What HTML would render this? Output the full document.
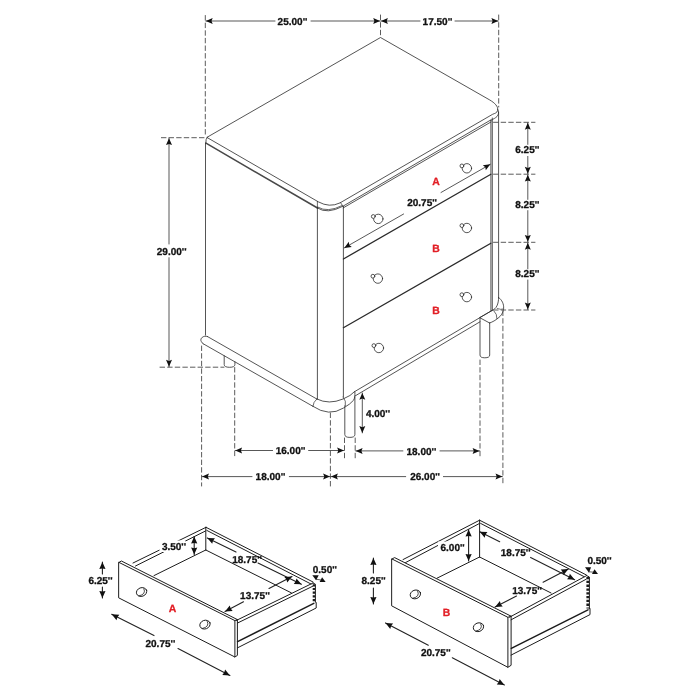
<!DOCTYPE html>
<html><head><meta charset="utf-8"><title>Nightstand dimensions</title>
<style>
html,body{margin:0;padding:0;background:#fff;}
body{width:700px;height:700px;overflow:hidden;}
svg{display:block;will-change:transform;}
svg text{font-family:"Liberation Sans",sans-serif;font-weight:bold;}
</style></head><body>
<svg width="700" height="700" viewBox="0 0 700 700" stroke-linecap="round" stroke-linejoin="round">
<rect width="700" height="700" fill="#fff"/>
<path d="M207.2,137.2 L380.5,37.5 L489.8,100 C494.5,102.8 498.6,106.5 497.6,110.5 C497,113 495,113.2 492.6,114.3 L340,202.9 Q329.5,208 318.6,202 Z" stroke="#2a2a2a" stroke-width="0.8" fill="none" />
<path d="M317.5,208 Q327,214.6 343,206.2 L490.9,119.9" stroke="#2a2a2a" stroke-width="0.8" fill="none" />
<path d="M206,143.2 L317.5,208" stroke="#484848" stroke-width="1.5" fill="none" />
<path d="M318,207.2 Q327.5,213 342,205.6" stroke="#2a2a2a" stroke-width="0.7" fill="none" />
<path d="M207.2,137.2 Q205.6,139 205.8,143" stroke="#2a2a2a" stroke-width="0.8" fill="none" />
<path d="M497.8,109.5 C499,112 498.8,114.5 497,116.5 C495.5,118 493.5,119 490.9,120.3" stroke="#2a2a2a" stroke-width="0.8" fill="none" />
<line x1="317.4" y1="201.4" x2="317.4" y2="208" stroke="#2a2a2a" stroke-width="0.7" />
<line x1="340.6" y1="202.7" x2="343" y2="206.4" stroke="#2a2a2a" stroke-width="0.7" />
<line x1="343.2" y1="207.9" x2="490.9" y2="122" stroke="#2a2a2a" stroke-width="0.8" />
<line x1="205.5" y1="143" x2="205.5" y2="335.1" stroke="#2a2a2a" stroke-width="0.8" />
<line x1="317.4" y1="208" x2="317.4" y2="399" stroke="#2a2a2a" stroke-width="0.8" />
<line x1="343.4" y1="206.4" x2="343.4" y2="397" stroke="#2a2a2a" stroke-width="0.8" />
<line x1="490.9" y1="120.3" x2="490.9" y2="310.5" stroke="#2a2a2a" stroke-width="0.8" />
<line x1="492.3" y1="118" x2="492.3" y2="310.2" stroke="#2a2a2a" stroke-width="0.8" />
<line x1="498.6" y1="112" x2="498.6" y2="297.5" stroke="#2a2a2a" stroke-width="0.8" />
<line x1="343.4" y1="259" x2="490.9" y2="174.2" stroke="#2a2a2a" stroke-width="1.3" />
<line x1="343.4" y1="327.8" x2="490.9" y2="243.2" stroke="#2a2a2a" stroke-width="1.3" />
<circle cx="378.3" cy="218.9" r="4.7" fill="#fff" stroke="#2a2a2a" stroke-width="0.8"/>
<circle cx="373.3" cy="216.5" r="1.9" fill="#fff" stroke="#2a2a2a" stroke-width="0.8"/>
<circle cx="466.9" cy="168.3" r="4.7" fill="#fff" stroke="#2a2a2a" stroke-width="0.8"/>
<circle cx="461.9" cy="165.9" r="1.9" fill="#fff" stroke="#2a2a2a" stroke-width="0.8"/>
<circle cx="377.9" cy="278.6" r="4.7" fill="#fff" stroke="#2a2a2a" stroke-width="0.8"/>
<circle cx="372.9" cy="276.20000000000005" r="1.9" fill="#fff" stroke="#2a2a2a" stroke-width="0.8"/>
<circle cx="466.9" cy="228" r="4.7" fill="#fff" stroke="#2a2a2a" stroke-width="0.8"/>
<circle cx="461.9" cy="225.6" r="1.9" fill="#fff" stroke="#2a2a2a" stroke-width="0.8"/>
<circle cx="378.9" cy="348" r="4.7" fill="#fff" stroke="#2a2a2a" stroke-width="0.8"/>
<circle cx="373.9" cy="345.6" r="1.9" fill="#fff" stroke="#2a2a2a" stroke-width="0.8"/>
<circle cx="466.9" cy="297.1" r="4.7" fill="#fff" stroke="#2a2a2a" stroke-width="0.8"/>
<circle cx="461.9" cy="294.70000000000005" r="1.9" fill="#fff" stroke="#2a2a2a" stroke-width="0.8"/>
<path d="M207.4,336.5 L316.8,399" stroke="#2a2a2a" stroke-width="0.8" fill="none" />
<path d="M203.1,343.7 L312.9,406.3" stroke="#2a2a2a" stroke-width="0.8" fill="none" />
<path d="M207.4,336.5 C203.5,335 199.5,338.5 201.3,341.5 C201.8,342.6 202.4,343.2 203.1,343.7" stroke="#2a2a2a" stroke-width="0.8" fill="none" />
<path d="M316.8,399 Q329,405 343,399 Q351,395.8 354.5,391.7" stroke="#2a2a2a" stroke-width="0.8" fill="none" />
<path d="M312.9,406.3 Q329,417.2 343.5,408 Q350.5,404 353.5,400.3 Q355.2,398 354.9,392" stroke="#2a2a2a" stroke-width="0.8" fill="none" />
<path d="M316.8,399 Q313.2,402 312.9,406.3" stroke="#2a2a2a" stroke-width="0.7" fill="none" />
<path d="M343.1,397 Q346.5,401 345.4,405.6" stroke="#2a2a2a" stroke-width="0.7" fill="none" />
<line x1="354.5" y1="391.7" x2="492" y2="310.5" stroke="#2a2a2a" stroke-width="0.8" />
<line x1="355" y1="396" x2="480" y2="321.8" stroke="#2a2a2a" stroke-width="0.8" />
<path d="M498.6,297.5 C502,300 504,304 503.6,308.5 C503.2,313 501,316 498,318.2 C495.5,320.2 493,321.8 489.6,323" stroke="#2a2a2a" stroke-width="0.8" fill="none" />
<path d="M498.6,297.5 C498.6,304 496.5,309 492,310.5" stroke="#2a2a2a" stroke-width="0.8" fill="none" />
<path d="M492,310.5 L479.6,317.6 L489.6,323" stroke="#2a2a2a" stroke-width="0.8" fill="none" />
<path d="M494,311 Q497.2,314 497,318.6" stroke="#2a2a2a" stroke-width="0.7" fill="none" />
<path d="M497.2,308.5 Q501,310 503.4,309" stroke="#2a2a2a" stroke-width="0.6" fill="none" />
<path d="M344.8,405.8 L344.8,434.5 Q344.8,437.4 349.9,437.4 Q354.9,437.4 354.9,434.5 L354.9,397" stroke="#2a2a2a" stroke-width="0.8" fill="none" />
<path d="M480,318 L480,355 Q480,357.8 484.8,357.8 Q489.7,357.8 489.7,355 L489.7,323" stroke="#2a2a2a" stroke-width="0.8" fill="none" />
<path d="M224.2,355.8 L224.2,364.5 Q224.2,367.3 229.5,367.3 Q234.9,367.3 234.9,364.5 L234.9,361.9" stroke="#2a2a2a" stroke-width="0.8" fill="none" />
<text x="436" y="184.9" font-size="10.4" fill="#e21f26" stroke="#e21f26" stroke-width="0.3" text-rendering="geometricPrecision" text-anchor="middle" >A</text>
<text x="436" y="251.7" font-size="10.4" fill="#e21f26" stroke="#e21f26" stroke-width="0.3" text-rendering="geometricPrecision" text-anchor="middle" >B</text>
<text x="436" y="314.3" font-size="10.4" fill="#e21f26" stroke="#e21f26" stroke-width="0.3" text-rendering="geometricPrecision" text-anchor="middle" >B</text>
<line x1="205.3" y1="15.5" x2="205.3" y2="137" stroke="#4a4a4a" stroke-width="0.9" stroke-dasharray="4.6 3"/>
<line x1="380.5" y1="15" x2="380.5" y2="37.5" stroke="#4a4a4a" stroke-width="0.9" stroke-dasharray="4.6 3"/>
<line x1="498.7" y1="15" x2="498.7" y2="107" stroke="#4a4a4a" stroke-width="0.9" stroke-dasharray="4.6 3"/>
<line x1="205.8" y1="21" x2="275" y2="21" stroke="#3a3a3a" stroke-width="0.85" />
<line x1="311" y1="21" x2="380.1" y2="21" stroke="#3a3a3a" stroke-width="0.85" />
<polygon points="205.80,21.00 212.70,18.00 211.50,21.00 212.70,24.00" fill="#111"/>
<polygon points="380.10,21.00 373.20,24.00 374.40,21.00 373.20,18.00" fill="#111"/>
<text x="292.5" y="24.6" font-size="10" fill="#111" stroke="#111" stroke-width="0.3" text-rendering="geometricPrecision" text-anchor="middle" >25.00''</text>
<line x1="381" y1="21" x2="420" y2="21" stroke="#3a3a3a" stroke-width="0.85" />
<line x1="455" y1="21" x2="498.3" y2="21" stroke="#3a3a3a" stroke-width="0.85" />
<polygon points="381.00,21.00 387.90,18.00 386.70,21.00 387.90,24.00" fill="#111"/>
<polygon points="498.30,21.00 491.40,24.00 492.60,21.00 491.40,18.00" fill="#111"/>
<text x="437.5" y="24.6" font-size="10" fill="#111" stroke="#111" stroke-width="0.3" text-rendering="geometricPrecision" text-anchor="middle" >17.50''</text>
<line x1="493.5" y1="122.3" x2="535" y2="122.3" stroke="#4a4a4a" stroke-width="0.9" stroke-dasharray="4.6 3"/>
<line x1="493.5" y1="174.2" x2="535" y2="174.2" stroke="#4a4a4a" stroke-width="0.9" stroke-dasharray="4.6 3"/>
<line x1="493.5" y1="242.3" x2="535" y2="242.3" stroke="#4a4a4a" stroke-width="0.9" stroke-dasharray="4.6 3"/>
<line x1="493.5" y1="310" x2="535" y2="310" stroke="#4a4a4a" stroke-width="0.9" stroke-dasharray="4.6 3"/>
<line x1="527.8" y1="122.8" x2="527.8" y2="144.4" stroke="#3a3a3a" stroke-width="0.85" />
<line x1="527.8" y1="156.4" x2="527.8" y2="173.7" stroke="#3a3a3a" stroke-width="0.85" />
<polygon points="527.80,122.80 530.80,129.70 527.80,128.50 524.80,129.70" fill="#111"/>
<polygon points="527.80,173.70 524.80,166.80 527.80,168.00 530.80,166.80" fill="#111"/>
<text x="527.4" y="152.9" font-size="10" fill="#111" stroke="#111" stroke-width="0.3" text-rendering="geometricPrecision" text-anchor="middle" >6.25''</text>
<line x1="527.8" y1="174.7" x2="527.8" y2="199.4" stroke="#3a3a3a" stroke-width="0.85" />
<line x1="527.8" y1="210.6" x2="527.8" y2="241.8" stroke="#3a3a3a" stroke-width="0.85" />
<polygon points="527.80,174.70 530.80,181.60 527.80,180.40 524.80,181.60" fill="#111"/>
<polygon points="527.80,241.80 524.80,234.90 527.80,236.10 530.80,234.90" fill="#111"/>
<text x="527.4" y="207.6" font-size="10" fill="#111" stroke="#111" stroke-width="0.3" text-rendering="geometricPrecision" text-anchor="middle" >8.25''</text>
<line x1="527.8" y1="242.8" x2="527.8" y2="268.9" stroke="#3a3a3a" stroke-width="0.85" />
<line x1="527.8" y1="280" x2="527.8" y2="309.5" stroke="#3a3a3a" stroke-width="0.85" />
<polygon points="527.80,242.80 530.80,249.70 527.80,248.50 524.80,249.70" fill="#111"/>
<polygon points="527.80,309.50 524.80,302.60 527.80,303.80 530.80,302.60" fill="#111"/>
<text x="527.4" y="277.40000000000003" font-size="10" fill="#111" stroke="#111" stroke-width="0.3" text-rendering="geometricPrecision" text-anchor="middle" >8.25''</text>
<line x1="161.4" y1="137.7" x2="206" y2="137.7" stroke="#4a4a4a" stroke-width="0.9" stroke-dasharray="4.6 3"/>
<line x1="160" y1="367.2" x2="224" y2="367.2" stroke="#4a4a4a" stroke-width="0.9" stroke-dasharray="4.6 3"/>
<line x1="169" y1="138.2" x2="169" y2="244" stroke="#3a3a3a" stroke-width="0.85" />
<line x1="169" y1="257.7" x2="169" y2="366.7" stroke="#3a3a3a" stroke-width="0.85" />
<polygon points="169.00,138.20 172.00,145.10 169.00,143.90 166.00,145.10" fill="#111"/>
<polygon points="169.00,366.70 166.00,359.80 169.00,361.00 172.00,359.80" fill="#111"/>
<text x="171.7" y="254.5" font-size="10" fill="#111" stroke="#111" stroke-width="0.3" text-rendering="geometricPrecision" text-anchor="middle" >29.00''</text>
<line x1="344.3" y1="247.9" x2="403.6" y2="214" stroke="#3a3a3a" stroke-width="0.85" />
<line x1="441" y1="192.5" x2="490.3" y2="164.3" stroke="#3a3a3a" stroke-width="0.85" />
<polygon points="344.30,247.90 348.80,241.87 349.25,245.07 351.78,247.07" fill="#111"/>
<polygon points="490.30,164.30 485.80,170.33 485.35,167.13 482.82,165.13" fill="#111"/>
<text x="422.1" y="206.1" font-size="10" fill="#111" stroke="#111" stroke-width="0.3" text-rendering="geometricPrecision" text-anchor="middle" >20.75''</text>
<line x1="201.6" y1="346" x2="201.6" y2="486" stroke="#4a4a4a" stroke-width="0.9" stroke-dasharray="4.6 3"/>
<line x1="234.7" y1="367.5" x2="234.7" y2="458" stroke="#4a4a4a" stroke-width="0.9" stroke-dasharray="4.6 3"/>
<line x1="330.4" y1="413" x2="330.4" y2="486" stroke="#4a4a4a" stroke-width="0.9" stroke-dasharray="4.6 3"/>
<line x1="344.5" y1="438" x2="344.5" y2="458" stroke="#4a4a4a" stroke-width="0.9" stroke-dasharray="4.6 3"/>
<line x1="355.2" y1="438" x2="355.2" y2="458" stroke="#4a4a4a" stroke-width="0.9" stroke-dasharray="4.6 3"/>
<line x1="480" y1="360" x2="480" y2="458.6" stroke="#4a4a4a" stroke-width="0.9" stroke-dasharray="4.6 3"/>
<line x1="502.9" y1="311" x2="502.9" y2="485.7" stroke="#4a4a4a" stroke-width="0.9" stroke-dasharray="4.6 3"/>
<line x1="235.2" y1="450.5" x2="272.6" y2="450.5" stroke="#3a3a3a" stroke-width="0.85" />
<line x1="308.6" y1="450.5" x2="344" y2="450.5" stroke="#3a3a3a" stroke-width="0.85" />
<polygon points="235.20,450.50 242.10,447.50 240.90,450.50 242.10,453.50" fill="#111"/>
<polygon points="344.00,450.50 337.10,453.50 338.30,450.50 337.10,447.50" fill="#111"/>
<text x="290.6" y="454.0" font-size="10" fill="#111" stroke="#111" stroke-width="0.3" text-rendering="geometricPrecision" text-anchor="middle" >16.00''</text>
<line x1="202.1" y1="476.6" x2="252" y2="476.6" stroke="#3a3a3a" stroke-width="0.85" />
<line x1="289.3" y1="476.6" x2="330" y2="476.6" stroke="#3a3a3a" stroke-width="0.85" />
<polygon points="202.10,476.60 209.00,473.60 207.80,476.60 209.00,479.60" fill="#111"/>
<polygon points="330.00,476.60 323.10,479.60 324.30,476.60 323.10,473.60" fill="#111"/>
<text x="270.5" y="480.20000000000005" font-size="10" fill="#111" stroke="#111" stroke-width="0.3" text-rendering="geometricPrecision" text-anchor="middle" >18.00''</text>
<line x1="355.7" y1="450.9" x2="402.9" y2="450.9" stroke="#3a3a3a" stroke-width="0.85" />
<line x1="440" y1="450.9" x2="479.5" y2="450.9" stroke="#3a3a3a" stroke-width="0.85" />
<polygon points="355.70,450.90 362.60,447.90 361.40,450.90 362.60,453.90" fill="#111"/>
<polygon points="479.50,450.90 472.60,453.90 473.80,450.90 472.60,447.90" fill="#111"/>
<text x="421.4" y="454.5" font-size="10" fill="#111" stroke="#111" stroke-width="0.3" text-rendering="geometricPrecision" text-anchor="middle" >18.00''</text>
<line x1="331" y1="476.6" x2="405.7" y2="476.6" stroke="#3a3a3a" stroke-width="0.85" />
<line x1="443.4" y1="476.6" x2="502.4" y2="476.6" stroke="#3a3a3a" stroke-width="0.85" />
<polygon points="331.00,476.60 337.90,473.60 336.70,476.60 337.90,479.60" fill="#111"/>
<polygon points="502.40,476.60 495.50,479.60 496.70,476.60 495.50,473.60" fill="#111"/>
<text x="425.1" y="480.20000000000005" font-size="10" fill="#111" stroke="#111" stroke-width="0.3" text-rendering="geometricPrecision" text-anchor="middle" >26.00''</text>
<line x1="362.3" y1="392.9" x2="362.3" y2="432.9" stroke="#3a3a3a" stroke-width="0.85" />
<polygon points="362.30,392.90 365.30,399.80 362.30,398.60 359.30,399.80" fill="#111"/>
<polygon points="362.30,432.90 359.30,426.00 362.30,427.20 365.30,426.00" fill="#111"/>
<text x="378" y="416.5" font-size="10" fill="#111" stroke="#111" stroke-width="0.3" text-rendering="geometricPrecision" text-anchor="middle" >4.00''</text>
<path d="M119,562.4 L234.9,620.6 L234.9,657 L119,598 Z" stroke="#1c1c1c" stroke-width="1.0" fill="none" />
<path d="M119,562.4 L121.4,561 L237.4,619.6 L237.4,655.4 L234.9,657" stroke="#1c1c1c" stroke-width="1.0" fill="none" />
<line x1="234.9" y1="620.6" x2="237.4" y2="619.6" stroke="#1c1c1c" stroke-width="1.0" />
<line x1="133" y1="563" x2="206" y2="527.3" stroke="#1c1c1c" stroke-width="1.0" />
<line x1="135.5" y1="566" x2="205.5" y2="531" stroke="#1c1c1c" stroke-width="1.0" />
<line x1="205.8" y1="527.3" x2="205.8" y2="550" stroke="#1c1c1c" stroke-width="1.0" />
<line x1="205.8" y1="550" x2="154" y2="575.6" stroke="#1c1c1c" stroke-width="1.0" />
<line x1="205.8" y1="550" x2="291.4" y2="592.9" stroke="#1c1c1c" stroke-width="1.0" />
<line x1="206" y1="527.3" x2="313" y2="582" stroke="#1c1c1c" stroke-width="1.0" />
<line x1="206.8" y1="530.4" x2="311" y2="584" stroke="#1c1c1c" stroke-width="1.0" />
<line x1="236.4" y1="620.4" x2="313" y2="583" stroke="#1c1c1c" stroke-width="1.0" />
<line x1="237.6" y1="623" x2="312.8" y2="586.2" stroke="#1c1c1c" stroke-width="1.0" />
<path d="M313,583 L315.4,584.2 L315.4,602.2" stroke="#1c1c1c" stroke-width="1.0" fill="none" />
<line x1="313.9" y1="584.2" x2="313.9" y2="602.4" stroke="#1c1c1c" stroke-width="2.4" stroke-dasharray="2.2 1.5" stroke-linecap="butt"/>
<line x1="237.6" y1="641.7" x2="313.8" y2="603.4" stroke="#1c1c1c" stroke-width="1.5" />
<path d="M237.4,647.9 L316.2,608 L316.2,602.6" stroke="#1c1c1c" stroke-width="1.0" fill="none" />
<ellipse cx="141.6" cy="592" rx="5.3" ry="4.3" transform="rotate(-20 141.6 592)" fill="#fff" stroke="#1c1c1c" stroke-width="0.9"/>
<path d="M145.0,589.0 Q147.6,594.5 140.1,596.1" fill="none" stroke="#1c1c1c" stroke-width="0.8" transform="translate(-1.1 -0.2)"/>
<ellipse cx="205" cy="624.6" rx="5.3" ry="4.3" transform="rotate(-20 205 624.6)" fill="#fff" stroke="#1c1c1c" stroke-width="0.9"/>
<path d="M208.4,621.6 Q211.0,627.1 203.5,628.7" fill="none" stroke="#1c1c1c" stroke-width="0.8" transform="translate(-1.1 -0.2)"/>
<text x="172.4" y="611.7" font-size="10.4" fill="#e21f26" stroke="#e21f26" stroke-width="0.3" text-rendering="geometricPrecision" text-anchor="middle" >A</text>
<line x1="102.4" y1="562" x2="102.4" y2="574" stroke="#222" stroke-width="1.1" />
<line x1="102.4" y1="587" x2="102.4" y2="598" stroke="#222" stroke-width="1.1" />
<polygon points="102.40,562.00 105.50,569.00 102.40,568.40 99.30,569.00" fill="#111"/>
<polygon points="102.40,598.00 99.30,591.00 102.40,591.60 105.50,591.00" fill="#111"/>
<text x="100.5" y="584.1" font-size="10" fill="#111" stroke="#111" stroke-width="0.3" text-rendering="geometricPrecision" text-anchor="middle" >6.25''</text>
<rect x="159.5" y="540.5" width="26" height="11.5" fill="#fff"/>
<line x1="194.2" y1="536.6" x2="194.2" y2="554.6" stroke="#222" stroke-width="1.1" />
<polygon points="194.20,536.60 197.30,543.60 194.20,543.00 191.10,543.60" fill="#111"/>
<polygon points="194.20,554.60 191.10,547.60 194.20,548.20 197.30,547.60" fill="#111"/>
<text x="174" y="550.0" font-size="10" fill="#111" stroke="#111" stroke-width="0.3" text-rendering="geometricPrecision" text-anchor="middle" >3.50''</text>
<line x1="207.3" y1="537.9" x2="236" y2="552.1" stroke="#222" stroke-width="1.1" />
<line x1="258" y1="563" x2="301.4" y2="584.3" stroke="#222" stroke-width="1.1" />
<polygon points="207.30,537.90 214.95,538.22 213.04,540.73 212.21,543.78" fill="#111"/>
<polygon points="301.40,584.30 293.75,583.98 295.66,581.47 296.49,578.42" fill="#111"/>
<text x="247.1" y="562.9" font-size="10" fill="#111" stroke="#111" stroke-width="0.3" text-rendering="geometricPrecision" text-anchor="middle" >18.75''</text>
<line x1="225" y1="611.4" x2="243.5" y2="601.8" stroke="#222" stroke-width="1.1" />
<line x1="269" y1="588.5" x2="292" y2="576.4" stroke="#222" stroke-width="1.1" />
<polygon points="225.00,611.40 229.77,605.41 230.67,608.44 232.64,610.91" fill="#111"/>
<polygon points="292.00,576.40 287.23,582.39 286.33,579.36 284.36,576.89" fill="#111"/>
<text x="255" y="598.8000000000001" font-size="10" fill="#111" stroke="#111" stroke-width="0.3" text-rendering="geometricPrecision" text-anchor="middle" >13.75''</text>
<line x1="111.7" y1="614.2" x2="154" y2="635.6" stroke="#222" stroke-width="1.1" />
<line x1="178" y1="648.6" x2="229.9" y2="675.4" stroke="#222" stroke-width="1.1" />
<polygon points="111.70,614.20 119.34,614.67 117.38,617.14 116.49,620.17" fill="#111"/>
<polygon points="229.90,675.40 222.26,674.93 224.22,672.46 225.11,669.43" fill="#111"/>
<text x="160.4" y="647.0" font-size="10" fill="#111" stroke="#111" stroke-width="0.3" text-rendering="geometricPrecision" text-anchor="middle" >20.75''</text>
<text x="324.9" y="572.9" font-size="10" fill="#111" stroke="#111" stroke-width="0.3" text-rendering="geometricPrecision" text-anchor="middle" >0.50''</text>
<polygon points="312.3,575.3 318.7,575.3 316.1,580.2" fill="#111"/>
<polygon points="319.6,582.1 325.6,582.1 322.1,577.2" fill="#111"/>
<line x1="316" y1="579.2" x2="321" y2="580" stroke="#1c1c1c" stroke-width="0.7" />
<path d="M392,559 L507.9,617.3 L507.9,667.3 L392,606 Z" stroke="#1c1c1c" stroke-width="1.0" fill="none" />
<path d="M392,559 L394.6,557.6 L511.1,616.2 L511.1,665.3 L507.9,667.3" stroke="#1c1c1c" stroke-width="1.0" fill="none" />
<line x1="507.9" y1="617.3" x2="511.1" y2="616.2" stroke="#1c1c1c" stroke-width="1.0" />
<line x1="403" y1="559.6" x2="479.6" y2="520.2" stroke="#1c1c1c" stroke-width="1.0" />
<line x1="405.5" y1="562.6" x2="479.2" y2="523.6" stroke="#1c1c1c" stroke-width="1.0" />
<line x1="479.6" y1="520.2" x2="479.6" y2="557" stroke="#1c1c1c" stroke-width="1.0" />
<line x1="479.6" y1="557" x2="437" y2="578.2" stroke="#1c1c1c" stroke-width="1.0" />
<line x1="479.6" y1="557" x2="551.1" y2="593" stroke="#1c1c1c" stroke-width="1.0" />
<line x1="479.6" y1="520.2" x2="586.4" y2="575" stroke="#1c1c1c" stroke-width="1.0" />
<line x1="480.6" y1="523.4" x2="584" y2="576.6" stroke="#1c1c1c" stroke-width="1.0" />
<line x1="509.6" y1="617.2" x2="586.6" y2="575.6" stroke="#1c1c1c" stroke-width="1.0" />
<line x1="511.1" y1="619.8" x2="586.2" y2="579.2" stroke="#1c1c1c" stroke-width="1.0" />
<path d="M586.6,575.6 L589.4,577 L589.4,608.7" stroke="#1c1c1c" stroke-width="1.0" fill="none" />
<line x1="587.8" y1="577" x2="587.8" y2="608.6" stroke="#1c1c1c" stroke-width="2.8" stroke-dasharray="2.3 1.5" stroke-linecap="butt"/>
<line x1="511.3" y1="648.3" x2="588" y2="609.8" stroke="#1c1c1c" stroke-width="1.5" />
<path d="M511.1,655.1 L590,614.6 L590,608.7" stroke="#1c1c1c" stroke-width="1.0" fill="none" />
<ellipse cx="415.4" cy="594.4" rx="5.3" ry="4.3" transform="rotate(-20 415.4 594.4)" fill="#fff" stroke="#1c1c1c" stroke-width="0.9"/>
<path d="M418.79999999999995,591.4 Q421.4,596.9 413.9,598.5" fill="none" stroke="#1c1c1c" stroke-width="0.8" transform="translate(-1.1 -0.2)"/>
<ellipse cx="478.5" cy="627.2" rx="5.3" ry="4.3" transform="rotate(-20 478.5 627.2)" fill="#fff" stroke="#1c1c1c" stroke-width="0.9"/>
<path d="M481.9,624.2 Q484.5,629.7 477.0,631.3000000000001" fill="none" stroke="#1c1c1c" stroke-width="0.8" transform="translate(-1.1 -0.2)"/>
<text x="446.6" y="615.9" font-size="10.4" fill="#e21f26" stroke="#e21f26" stroke-width="0.3" text-rendering="geometricPrecision" text-anchor="middle" >B</text>
<line x1="373.4" y1="558" x2="373.4" y2="573" stroke="#222" stroke-width="1.1" />
<line x1="373.4" y1="588" x2="373.4" y2="604" stroke="#222" stroke-width="1.1" />
<polygon points="373.40,558.00 376.50,565.00 373.40,564.40 370.30,565.00" fill="#111"/>
<polygon points="373.40,604.00 370.30,597.00 373.40,597.60 376.50,597.00" fill="#111"/>
<text x="373.6" y="584.0" font-size="10" fill="#111" stroke="#111" stroke-width="0.3" text-rendering="geometricPrecision" text-anchor="middle" >8.25''</text>
<rect x="438" y="541.5" width="27" height="12" fill="#fff"/>
<line x1="468.6" y1="529.6" x2="468.6" y2="561" stroke="#222" stroke-width="1.1" />
<polygon points="468.60,529.60 471.70,536.60 468.60,536.00 465.50,536.60" fill="#111"/>
<polygon points="468.60,561.00 465.50,554.00 468.60,554.60 471.70,554.00" fill="#111"/>
<text x="452.6" y="551.2" font-size="10" fill="#111" stroke="#111" stroke-width="0.3" text-rendering="geometricPrecision" text-anchor="middle" >6.00''</text>
<line x1="479.8" y1="531.7" x2="499.7" y2="541.8" stroke="#222" stroke-width="1.1" />
<line x1="530.6" y1="557.4" x2="574.7" y2="579.7" stroke="#222" stroke-width="1.1" />
<polygon points="479.80,531.70 487.45,532.09 485.51,534.59 484.65,537.63" fill="#111"/>
<polygon points="574.70,579.70 567.05,579.31 568.99,576.81 569.85,573.77" fill="#111"/>
<text x="515.7" y="555.9" font-size="10" fill="#111" stroke="#111" stroke-width="0.3" text-rendering="geometricPrecision" text-anchor="middle" >18.75''</text>
<line x1="495.1" y1="607.1" x2="516.5" y2="596" stroke="#222" stroke-width="1.1" />
<line x1="543.1" y1="582.2" x2="568.4" y2="569" stroke="#222" stroke-width="1.1" />
<polygon points="495.10,607.10 499.88,601.12 500.78,604.15 502.74,606.62" fill="#111"/>
<polygon points="568.40,569.00 563.62,574.98 562.72,571.95 560.76,569.48" fill="#111"/>
<text x="527.1" y="594.1" font-size="10" fill="#111" stroke="#111" stroke-width="0.3" text-rendering="geometricPrecision" text-anchor="middle" >13.75''</text>
<line x1="385.5" y1="622.9" x2="428.3" y2="645.3" stroke="#222" stroke-width="1.1" />
<line x1="452.3" y1="657.8" x2="504.4" y2="685" stroke="#222" stroke-width="1.1" />
<polygon points="385.50,622.90 393.14,623.39 391.17,625.86 390.27,628.89" fill="#111"/>
<polygon points="504.40,685.00 496.76,684.51 498.73,682.04 499.63,679.01" fill="#111"/>
<text x="435.8" y="656.2" font-size="10" fill="#111" stroke="#111" stroke-width="0.3" text-rendering="geometricPrecision" text-anchor="middle" >20.75''</text>
<text x="599.5" y="563.9" font-size="10" fill="#111" stroke="#111" stroke-width="0.3" text-rendering="geometricPrecision" text-anchor="middle" >0.50''</text>
<polygon points="585,567.2 591,567.2 589,572.7" fill="#111"/>
<polygon points="592,574 598,574 594.5,569.3" fill="#111"/>
<line x1="589" y1="571.8" x2="594" y2="572.2" stroke="#1c1c1c" stroke-width="0.7" />
</svg>
</body></html>
